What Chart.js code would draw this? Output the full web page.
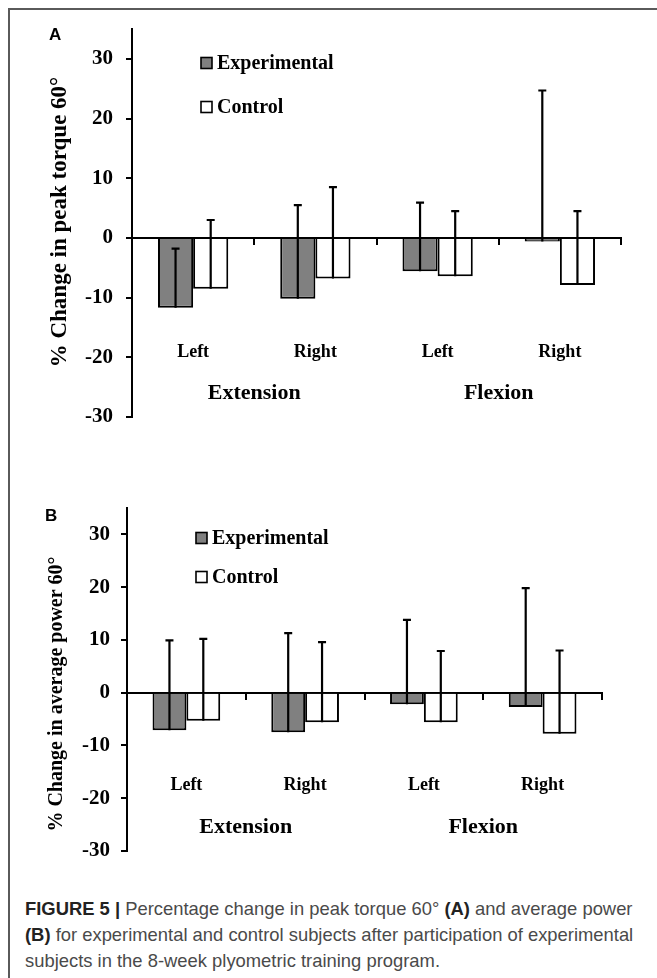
<!DOCTYPE html>
<html><head><meta charset="utf-8">
<script src="https://cdn.jsdelivr.net/npm/chart.js@4.4.0/dist/chart.umd.min.js"></script>
<style>
html,body{margin:0;padding:0;background:#fff;}
#page{position:relative;width:657px;height:978px;overflow:hidden;background:#fff;}
#frame{position:absolute;left:8px;top:8px;width:700px;height:1000px;border-left:2px solid #5a5a5a;border-top:2px solid #5a5a5a;}
canvas{position:absolute;left:0;}
.panel{position:absolute;font:bold 17px "Liberation Sans",Arial,sans-serif;color:#000;line-height:20px;}
#caption{position:absolute;left:25px;top:896px;width:630px;font:18.4px "Liberation Sans",Arial,sans-serif;line-height:26px;color:#4a4a4a;white-space:nowrap;}
#caption b{font-weight:700;color:#222;}
</style></head>
<body><div id="page">
<div id="frame"></div>
<canvas id="cA" width="657" height="440" style="top:0"></canvas>
<canvas id="cB" width="657" height="400" style="top:480px"></canvas>
<div class="panel" style="left:49px;top:25px">A</div>
<div class="panel" style="left:45px;top:506px">B</div>
<div id="caption"><b>FIGURE 5 |</b> Percentage change in peak torque 60° <b>(A)</b> and average power<br><b>(B)</b> for experimental and control subjects after participation of experimental<br>subjects in the 8-week plyometric training program.</div>
</div>
<script>
const categories = ['Left', 'Right', 'Left', 'Right'];
const groups = ['Extension', 'Flexion'];
const seriesNames = ['Experimental', 'Control'];
const yTicks = [30, 20, 10, 0, -10, -20, -30];

// Panel A: % change in peak torque 60°
const torqueExp = [-11.7, -10.2, -5.6, -0.6];
const torqueCtrl = [-8.5, -6.8, -6.4, -7.9];
const torqueExpSD = [9.9, 15.7, 11.5, 25.3];
const torqueCtrlSD = [11.5, 15.3, 10.9, 12.4];

// Panel B: % change in average power 60°
const powerExp = [-7.1, -7.5, -2.2, -2.7];
const powerCtrl = [-5.3, -5.6, -5.6, -7.8];
const powerExpSD = [17.0, 18.8, 16.0, 22.5];
const powerCtrlSD = [15.5, 15.2, 13.5, 15.8];

const SERIF = '"Liberation Serif","Times New Roman",serif';

const decor = {
  id: 'decor',
  afterDatasetsDraw(chart, args, o) {
    const ctx = chart.ctx, y = chart.scales.y, x = chart.scales.x;
    ctx.save();
    // error bars (upper half only)
    ctx.strokeStyle = '#000';
    ctx.lineWidth = 2.2;
    chart.data.datasets.forEach((ds, i) => {
      const meta = chart.getDatasetMeta(i);
      meta.data.forEach((el, j) => {
        const top = y.getPixelForValue(ds.data[j] + ds.sd[j]);
        ctx.beginPath();
        ctx.moveTo(el.x, el.y);
        ctx.lineTo(el.x, top);
        ctx.moveTo(el.x - 4, top);
        ctx.lineTo(el.x + 4, top);
        ctx.stroke();
      });
    });
    // legend
    ctx.font = 'bold 20px ' + SERIF;
    ctx.textBaseline = 'middle';
    ctx.textAlign = 'left';
    chart.data.datasets.forEach((ds, i) => {
      const cy = o.legendY[i];
      ctx.fillStyle = ds.backgroundColor;
      ctx.fillRect(o.legendX, cy - 5.5, 11, 11);
      ctx.lineWidth = 1.6;
      ctx.strokeRect(o.legendX, cy - 5.5, 11, 11);
      ctx.fillStyle = '#000';
      ctx.fillText(ds.label, o.legendX + 16, cy + 1);
    });
    // group labels
    ctx.font = 'bold 22px ' + SERIF;
    ctx.textAlign = 'center';
    const gy = y.getPixelForValue(o.groupValue);
    groups.forEach((g, k) => {
      const gx = (x.getPixelForValue(2 * k) + x.getPixelForValue(2 * k + 1)) / 2;
      ctx.fillText(g, gx, gy);
    });
    // y-axis title
    ctx.translate(o.titleX, o.titleY);
    ctx.rotate(-Math.PI / 2);
    ctx.font = 'bold ' + o.titleSize + 'px ' + SERIF;
    ctx.fillText(o.title, 0, 0);
    ctx.restore();
  }
};

function makeChart(id, cfg) {
  return new Chart(document.getElementById(id), {
    type: 'bar',
    data: {
      labels: categories,
      datasets: [
        { label: seriesNames[0], data: cfg.exp, sd: cfg.expSD, backgroundColor: '#808080', borderColor: '#000', borderWidth: 2, categoryPercentage: cfg.cat, barPercentage: 1 },
        { label: seriesNames[1], data: cfg.ctrl, sd: cfg.ctrlSD, backgroundColor: '#ffffff', borderColor: '#000', borderWidth: 2, categoryPercentage: cfg.cat, barPercentage: 1 }
      ]
    },
    options: {
      responsive: false,
      animation: false,
      events: [],
      layout: { padding: cfg.padding },
      plugins: { legend: { display: false }, tooltip: { enabled: false }, decor: cfg.decor },
      scales: {
        x: {
          type: 'category', position: { y: 0 }, offset: true, z: 1,
          afterFit(s) { s.paddingLeft = 0; s.paddingRight = 0; },
          grid: { drawOnChartArea: false, drawTicks: true, tickLength: 6, color: '#000', lineWidth: 2, offset: true },
          border: { display: true, color: '#000', width: 2 },
          ticks: { padding: cfg.xpad, color: '#000', font: { family: SERIF, weight: 'bold', size: 18 }, maxRotation: 0, autoSkip: false }
        },
        y: {
          min: -30, max: 35, position: 'left',
          afterBuildTicks(s) { s.ticks = yTicks.map(v => ({ value: v })); },
          afterFit(s) { s.width = cfg.axisX; s.paddingTop = 0; s.paddingBottom = 0; },
          grid: { drawOnChartArea: false, tickLength: 6, color: '#000', lineWidth: 2 },
          border: { color: '#000', width: 2 },
          ticks: { padding: cfg.ypad, color: '#000', font: { family: SERIF, weight: 'bold', size: 21 } }
        }
      }
    },
    plugins: [decor]
  });
}

makeChart('cA', {
  exp: torqueExp, ctrl: torqueCtrl, expSD: torqueExpSD, ctrlSD: torqueCtrlSD,
  cat: 0.575, padding: { top: 29, bottom: 23, left: 0, right: 36 }, axisX: 132, xpad: 98, ypad: 13,
  decor: { legendX: 201, legendY: [63, 107], groupValue: -26, titleX: 60, titleY: 222, titleSize: 23, title: '% Change in peak torque 60°' }
});
makeChart('cB', {
  exp: powerExp, ctrl: powerCtrl, expSD: powerExpSD, ctrlSD: powerCtrlSD,
  cat: 0.57, padding: { top: 28, bottom: 29, left: 0, right: 55 }, axisX: 127, xpad: 76, ypad: 11,
  decor: { legendX: 196, legendY: [58, 97], groupValue: -25.5, titleX: 57, titleY: 214, titleSize: 20, title: '% Change in average power 60°' }
});
</script>
</body></html>
